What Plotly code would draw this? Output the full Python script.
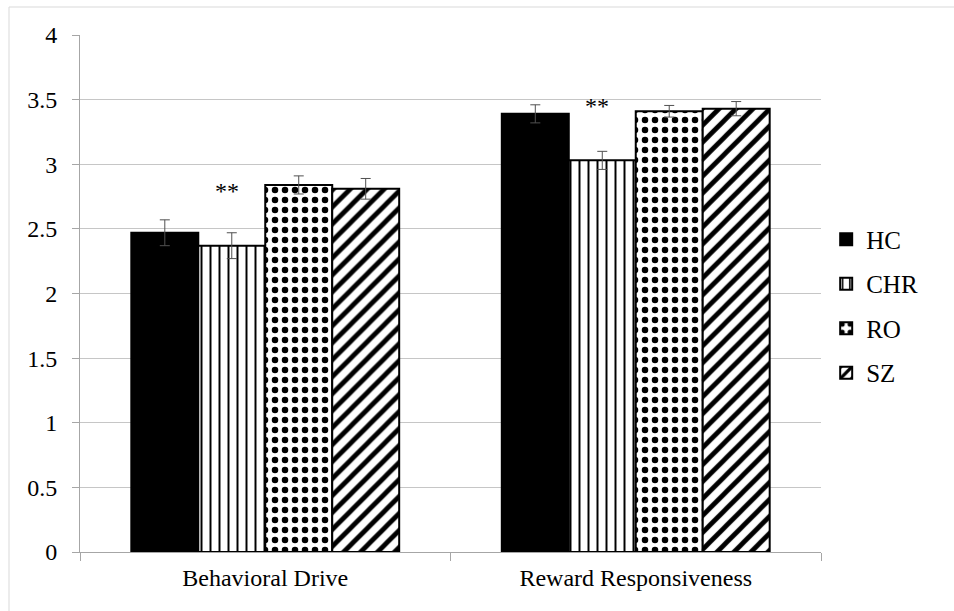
import plotly.graph_objects as go

# Scale means per group with standard errors
categories = ["Behavioral Drive", "Reward Responsiveness"]
groups = ["HC", "CHR", "RO", "SZ"]
hc_means = [2.47, 3.39]
chr_means = [2.37, 3.03]
ro_means = [2.84, 3.41]
sz_means = [2.81, 3.43]
hc_err = [0.10, 0.07]
chr_err = [0.10, 0.07]
ro_err = [0.07, 0.045]
sz_err = [0.08, 0.055]
sig_labels = ["**", "**"]
sig_heights = [2.79, 3.45]

means = [hc_means, chr_means, ro_means, sz_means]
errs = [hc_err, chr_err, ro_err, sz_err]

FONT = "Liberation Serif, Times New Roman, serif"
BARGAP = 0.277

patterns = [
    dict(shape=""),
    dict(shape="|", fgcolor="black", bgcolor="white", size=9, solidity=0.22, fillmode="replace"),
    dict(shape=".", fgcolor="black", bgcolor="white", size=10, solidity=0.33, fillmode="replace"),
    dict(shape="/", fgcolor="black", bgcolor="white", size=12, solidity=0.4, fillmode="replace"),
]
fills = ["black", "white", "white", "white"]

fig = go.Figure()
for i, g in enumerate(groups):
    fig.add_trace(go.Bar(
        name=g,
        x=categories,
        y=means[i],
        legendgroup=g,
        marker=dict(color=fills[i], line=dict(color="black", width=2), pattern=patterns[i]),
        error_y=dict(type="data", array=errs[i], visible=True,
                     color="#505050", thickness=1, width=5),
    ))

# Significance markers above the CHR bars
bar_w = (1 - BARGAP) / len(groups)
chr_offset = (1 - (len(groups) - 1) / 2) * bar_w
for k, lab in enumerate(sig_labels):
    fig.add_annotation(
        x=k + chr_offset, y=sig_heights[k], xref="x", yref="y",
        text=lab, showarrow=False, xshift=-5,
        font=dict(family=FONT, size=24, color="black"),
    )

grid = "#c6c6c6"
axis = "#a6a6a6"

fig.update_layout(
    width=954, height=611,
    margin=dict(l=80, r=133, t=35, b=59),
    paper_bgcolor="white", plot_bgcolor="white",
    barmode="group", bargap=BARGAP, bargroupgap=0,
    font=dict(family=FONT, size=24, color="black"),
    showlegend=True,
    legend=dict(
        x=1.007, xanchor="left", y=0.476, yanchor="middle",
        font=dict(family=FONT, size=25, color="black"),
        tracegroupgap=9, bgcolor="rgba(0,0,0,0)",
    ),
    xaxis=dict(
        showline=True, linecolor=axis, linewidth=1,
        ticks="outside", tickson="boundaries", ticklen=8, tickcolor=axis,
        ticklabelstandoff=4,
        showgrid=False, zeroline=False,
        tickfont=dict(family=FONT, size=24, color="black"),
    ),
    yaxis=dict(
        range=[0, 4], dtick=0.5, tick0=0,
        showgrid=True, gridcolor=grid, gridwidth=1,
        showline=True, linecolor=axis, linewidth=1,
        ticks="outside", ticklen=7, tickcolor=axis,
        ticklabelstandoff=10,
        zeroline=False,
        tickfont=dict(family=FONT, size=24, color="black"),
    ),
    shapes=[dict(
        type="rect", xref="paper", yref="paper",
        x0=(9 - 80) / 741, x1=1.25, y0=-0.3, y1=1 + (35 - 7) / 517,
        line=dict(color="#d9d9d9", width=1), fillcolor="rgba(0,0,0,0)", layer="below",
    )],
)

fig.write_html("out.html")
